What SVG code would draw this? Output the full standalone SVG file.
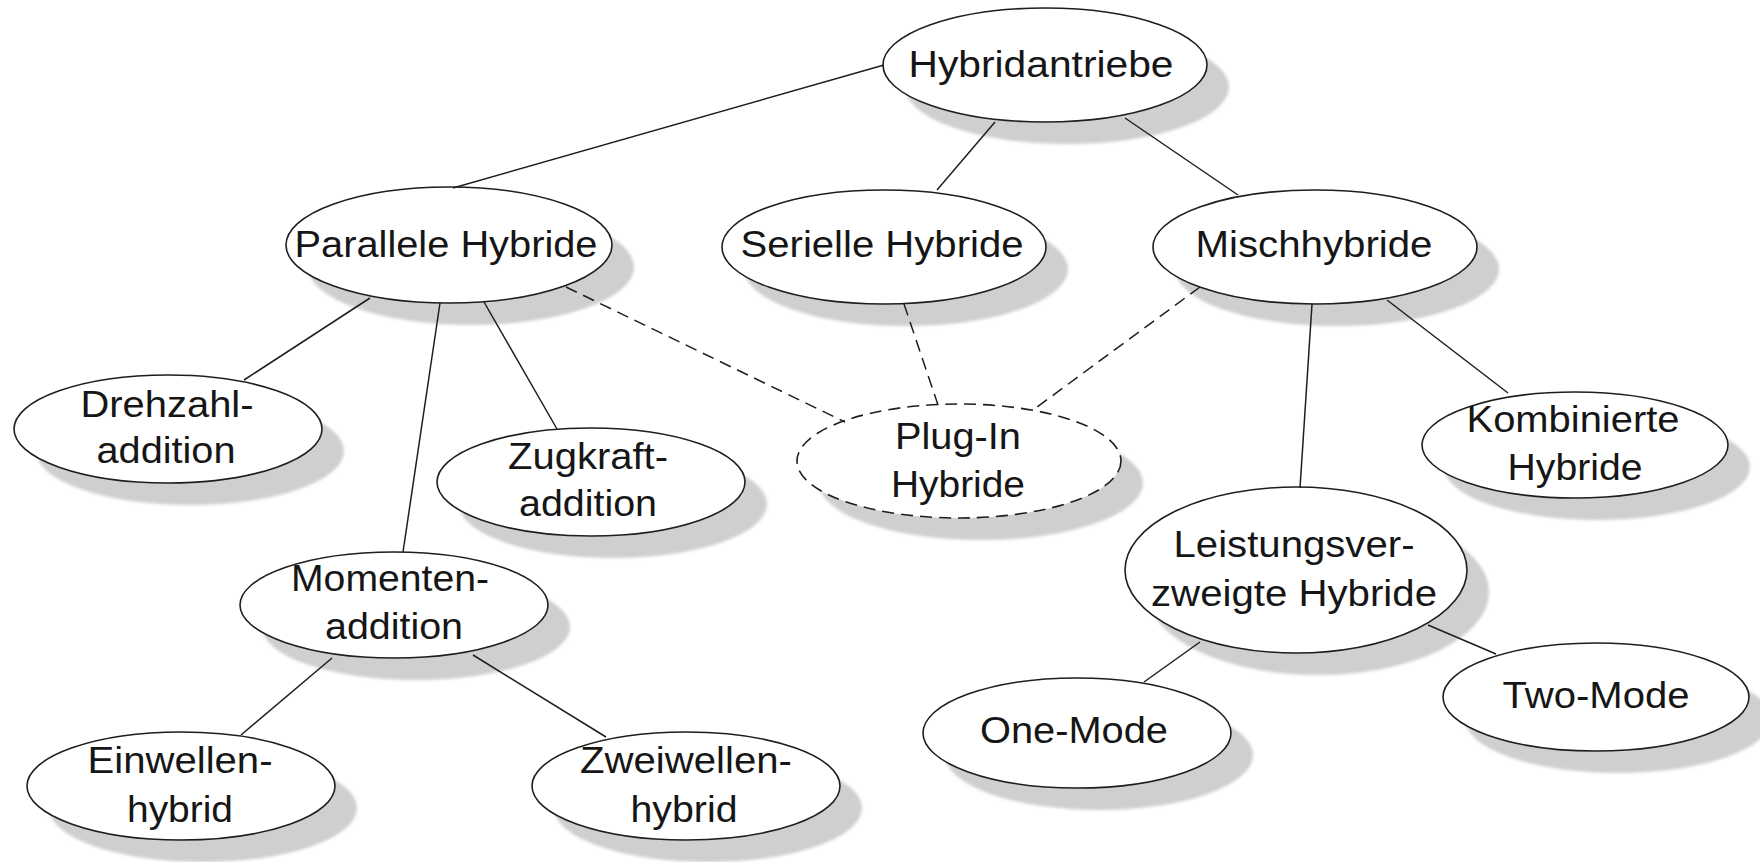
<svg xmlns="http://www.w3.org/2000/svg" width="1760" height="862" viewBox="0 0 1760 862">
  <defs>
    <filter id="soft" x="-10%" y="-10%" width="120%" height="120%">
      <feGaussianBlur stdDeviation="1.5"/>
    </filter>
  </defs>
  <style>
    .shadow { fill: #cfcfcf; stroke: none; filter: url(#soft); }
    .node { fill: #ffffff; stroke: #1e1e1e; stroke-width: 1.6; }
    .node.dashed { stroke-dasharray: 12 7; }
    .label { font-family: "Liberation Sans", Arial, sans-serif; font-size: 36px; fill: #161616; text-anchor: middle; }
    .edge { stroke: #1e1e1e; stroke-width: 1.5; fill: none; }
    .edge.dashed { stroke-dasharray: 12 7; }
  </style>

  <rect width="1760" height="862" fill="#ffffff"/>

  <!-- nodes: each with a drop shadow offset down and to the right -->
  <g id="hybridantriebe">
    <ellipse class="shadow" cx="1067" cy="87" rx="162" ry="57"/>
    <ellipse class="node" cx="1045" cy="65" rx="162" ry="57"/>
    <text class="label" x="1041" y="77" textLength="265" lengthAdjust="spacingAndGlyphs">Hybridantriebe</text>
  </g>

  <g id="parallele-hybride">
    <ellipse class="shadow" cx="471" cy="267" rx="163" ry="58"/>
    <ellipse class="node" cx="449" cy="245" rx="163" ry="58"/>
    <text class="label" x="446" y="257" textLength="303" lengthAdjust="spacingAndGlyphs">Parallele Hybride</text>
  </g>

  <g id="serielle-hybride">
    <ellipse class="shadow" cx="906" cy="269" rx="162" ry="57"/>
    <ellipse class="node" cx="884" cy="247" rx="162" ry="57"/>
    <text class="label" x="882" y="257" textLength="283" lengthAdjust="spacingAndGlyphs">Serielle Hybride</text>
  </g>

  <g id="mischhybride">
    <ellipse class="shadow" cx="1337" cy="269" rx="162" ry="57"/>
    <ellipse class="node" cx="1315" cy="247" rx="162" ry="57"/>
    <text class="label" x="1314" y="257" textLength="237" lengthAdjust="spacingAndGlyphs">Mischhybride</text>
  </g>

  <g id="drehzahladdition">
    <ellipse class="shadow" cx="190" cy="451" rx="154" ry="54"/>
    <ellipse class="node" cx="168" cy="429" rx="154" ry="54"/>
    <text class="label" x="167" y="417" textLength="173" lengthAdjust="spacingAndGlyphs">Drehzahl-</text>
    <text class="label" x="166" y="463" textLength="139" lengthAdjust="spacingAndGlyphs">addition</text>
  </g>

  <g id="zugkraftaddition">
    <ellipse class="shadow" cx="613" cy="504" rx="154" ry="54"/>
    <ellipse class="node" cx="591" cy="482" rx="154" ry="54"/>
    <text class="label" x="588" y="469" textLength="160" lengthAdjust="spacingAndGlyphs">Zugkraft-</text>
    <text class="label" x="588" y="516" textLength="138" lengthAdjust="spacingAndGlyphs">addition</text>
  </g>

  <g id="plug-in-hybride">
    <ellipse class="shadow" cx="981" cy="483" rx="162" ry="57"/>
    <ellipse class="node dashed" cx="959" cy="461" rx="162" ry="57"/>
    <text class="label" x="958" y="449" textLength="126" lengthAdjust="spacingAndGlyphs">Plug-In</text>
    <text class="label" x="958" y="497" textLength="134" lengthAdjust="spacingAndGlyphs">Hybride</text>
  </g>

  <g id="kombinierte-hybride">
    <ellipse class="shadow" cx="1597" cy="467" rx="153" ry="53"/>
    <ellipse class="node" cx="1575" cy="445" rx="153" ry="53"/>
    <text class="label" x="1573" y="432" textLength="213" lengthAdjust="spacingAndGlyphs">Kombinierte</text>
    <text class="label" x="1575" y="480" textLength="135" lengthAdjust="spacingAndGlyphs">Hybride</text>
  </g>

  <g id="momentenaddition">
    <ellipse class="shadow" cx="416" cy="627" rx="154" ry="53"/>
    <ellipse class="node" cx="394" cy="605" rx="154" ry="53"/>
    <text class="label" x="390" y="591" textLength="198" lengthAdjust="spacingAndGlyphs">Momenten-</text>
    <text class="label" x="394" y="639" textLength="138" lengthAdjust="spacingAndGlyphs">addition</text>
  </g>

  <g id="leistungsverzweigte-hybride">
    <ellipse class="shadow" cx="1318" cy="592" rx="171" ry="83"/>
    <ellipse class="node" cx="1296" cy="570" rx="171" ry="83"/>
    <text class="label" x="1294" y="557" textLength="241" lengthAdjust="spacingAndGlyphs">Leistungsver-</text>
    <text class="label" x="1294" y="606" textLength="286" lengthAdjust="spacingAndGlyphs">zweigte Hybride</text>
  </g>

  <g id="two-mode">
    <ellipse class="shadow" cx="1618" cy="719" rx="153" ry="54"/>
    <ellipse class="node" cx="1596" cy="697" rx="153" ry="54"/>
    <text class="label" x="1596" y="708" textLength="187" lengthAdjust="spacingAndGlyphs">Two-Mode</text>
  </g>

  <g id="one-mode">
    <ellipse class="shadow" cx="1099" cy="755" rx="154" ry="55"/>
    <ellipse class="node" cx="1077" cy="733" rx="154" ry="55"/>
    <text class="label" x="1074" y="743" textLength="188" lengthAdjust="spacingAndGlyphs">One-Mode</text>
  </g>

  <g id="einwellenhybrid">
    <ellipse class="shadow" cx="203" cy="808" rx="154" ry="54"/>
    <ellipse class="node" cx="181" cy="786" rx="154" ry="54"/>
    <text class="label" x="180" y="773" textLength="185" lengthAdjust="spacingAndGlyphs">Einwellen-</text>
    <text class="label" x="180" y="822" textLength="106" lengthAdjust="spacingAndGlyphs">hybrid</text>
  </g>

  <g id="zweiwellenhybrid">
    <ellipse class="shadow" cx="708" cy="808" rx="154" ry="54"/>
    <ellipse class="node" cx="686" cy="786" rx="154" ry="54"/>
    <text class="label" x="686" y="773" textLength="212" lengthAdjust="spacingAndGlyphs">Zweiwellen-</text>
    <text class="label" x="684" y="822" textLength="107" lengthAdjust="spacingAndGlyphs">hybrid</text>
  </g>

  <!-- connectors, edge to edge between ellipses -->
  <g id="connectors">
    <line class="edge" x1="884" y1="65" x2="453" y2="188"/>
    <line class="edge" x1="995" y1="122" x2="937" y2="190"/>
    <line class="edge" x1="1125" y1="118" x2="1238" y2="195"/>
    <line class="edge" x1="370" y1="298" x2="244" y2="380"/>
    <line class="edge" x1="440" y1="303" x2="403" y2="552"/>
    <line class="edge" x1="484" y1="302" x2="557" y2="429"/>
    <line class="edge" x1="332" y1="658" x2="241" y2="735"/>
    <line class="edge" x1="473" y1="655" x2="606" y2="737"/>
    <line class="edge" x1="1312" y1="304" x2="1300" y2="488"/>
    <line class="edge" x1="1387" y1="300" x2="1508" y2="393"/>
    <line class="edge" x1="1200" y1="642" x2="1144" y2="682"/>
    <line class="edge" x1="1428" y1="625" x2="1496" y2="654"/>
    <line class="edge dashed" x1="566" y1="287" x2="845" y2="422"/>
    <line class="edge dashed" x1="904" y1="304" x2="938" y2="405"/>
    <line class="edge dashed" x1="1200" y1="287" x2="1033" y2="410"/>
  </g>
</svg>
